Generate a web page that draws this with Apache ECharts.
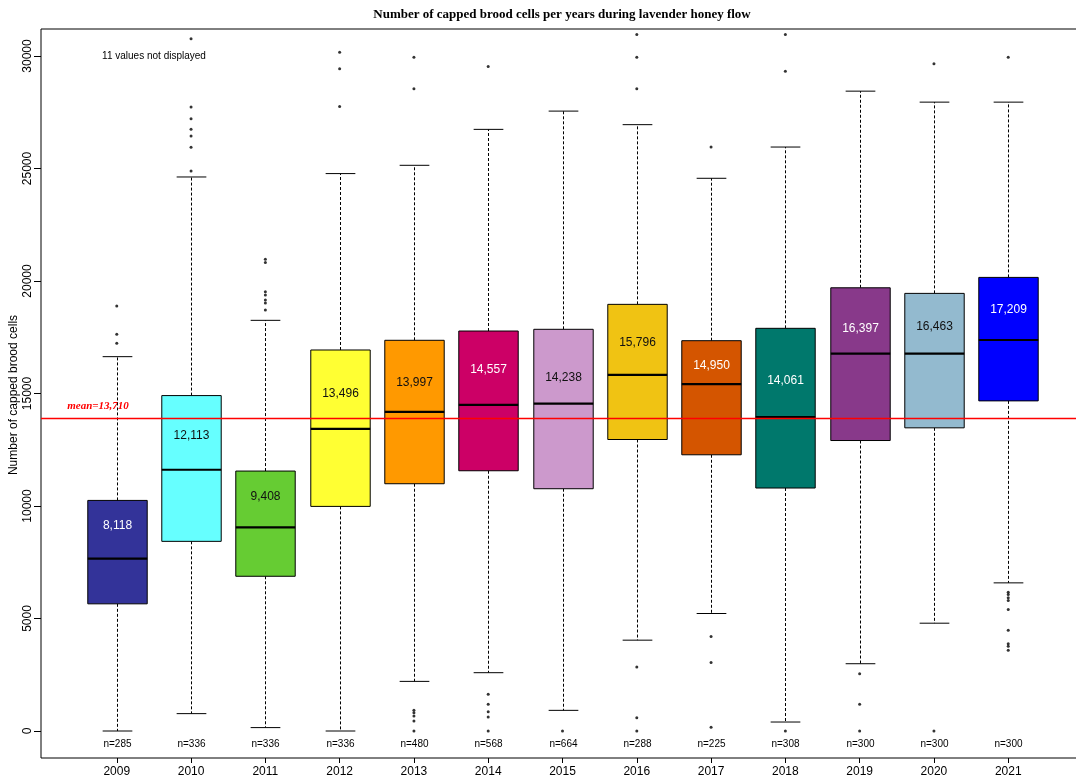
<!DOCTYPE html>
<html><head><meta charset="utf-8">
<script src="https://cdn.jsdelivr.net/npm/echarts@6/dist/echarts.min.js"></script>
<style>html,body{margin:0;padding:0;background:#fff}#c{width:1076px;height:776px}</style>
</head><body><div id="c"></div>
<script>
// ---------- data ----------
const years = ['2009','2010','2011','2012','2013','2014','2015','2016','2017','2018','2019','2020','2021'];
const nCounts = [285,336,336,336,480,568,664,288,225,308,300,300,300];
const whiskerLow  = [0,772,151,0,2205,2591,918,4037,5222,399,2990,4791,6584];
const q1          = [5652,8429,6877,9982,10989,11566,10768,12955,12276,10799,12910,13474,14672];
const median      = [7662,11611,9050,13430,14184,14494,14552,15825,15413,13949,16770,16770,17378];
const q3          = [10248,14907,11553,16934,17365,17777,17853,18962,17347,17897,19698,19450,20160];
const whiskerHigh = [16637,24623,18252,24774,25142,26739,27551,26948,24565,25954,28438,27950,27950];
const meanValues  = [8118,12113,9408,13496,13997,14557,14238,15796,14950,14061,16397,16463,17209];
const meanLabelAt = [9139,13119,10426,15013,15484,16047,15723,17276,16225,15559,17897,17955,18740];
const outliers2009 = [18886,17630,17232];
const outliers2010 = [30763,27728,27214,26739,26442,25941,24889];
const outliers2011 = [20971,20825,19521,19374,19153,19020,18709];
const outliers2012 = [30169,29432,27760];
const outliers2013 = [29947,28545,918,816,665,444,0];
const outliers2014 = [29534,1628,1185,861,621,0];
const outliers2015 = [0];
const outliers2016 = [30954,29947,28545,2839,594,0];
const outliers2017 = [25954,4201,3048,164];
const outliers2018 = [30954,29326,0];
const outliers2019 = [2547,1185,0];
const outliers2020 = [29654,0];
const outliers2021 = [29947,6167,6065,5918,5799,5400,4481,3878,3771,3594];
const grandMean = 13710;
const grandMeanLine = 13904;
const hiddenCount = 11;
const yTicks = [0,5000,10000,15000,20000,25000,30000];

// ---------- styles ----------
const boxColors = ['#333399','#66FFFF','#66CC33','#FFFF33','#FF9900','#CC0066','#CC99CC','#F0C313','#D45500','#00786C','#88398A','#93BACF','#0000FF'];
const labelColors = ['#fff','#111','#111','#111','#111','#fff','#111','#111','#fff','#fff','#fff','#111','#fff'];
const FONT = '"Liberation Sans", Arial, sans-serif';

const allOutliers = [outliers2009,outliers2010,outliers2011,outliers2012,outliers2013,outliers2014,outliers2015,outliers2016,outliers2017,outliers2018,outliers2019,outliers2020,outliers2021];
const outlierPoints = [];
allOutliers.forEach((arr, i) => arr.forEach(v => outlierPoints.push([i + 1, v])));
const boxData = years.map((y, i) => [i + 1, whiskerLow[i], q1[i], median[i], q3[i], whiskerHigh[i]]);
const pos = years.map((y, i) => i + 1);

function renderItem(params, api) {
  const i = params.dataIndex;
  const x = api.value(0);
  const pLow = api.coord([x, api.value(1)]);
  const pQ1 = api.coord([x, api.value(2)]);
  const pMed = api.coord([x, api.value(3)]);
  const pQ3 = api.coord([x, api.value(4)]);
  const pHigh = api.coord([x, api.value(5)]);
  const pLab = api.coord([x, meanLabelAt[i]]);
  const pZero = api.coord([x, 0]);
  const bw = api.size([0.8, 0])[0];
  const cw = api.size([0.4, 0])[0];
  const cx = Math.round(pMed[0]) + 0.5;
  const dash = { stroke: '#000', lineWidth: 1, lineDash: [3, 2] };
  const solid = { stroke: '#000', lineWidth: 1 };
  return {
    type: 'group',
    children: [
      { type: 'line', shape: { x1: cx, y1: pQ3[1], x2: cx, y2: pHigh[1] }, style: dash },
      { type: 'line', shape: { x1: cx, y1: pQ1[1], x2: cx, y2: pLow[1] }, style: dash },
      { type: 'line', shape: { x1: cx - cw / 2, y1: pHigh[1], x2: cx + cw / 2, y2: pHigh[1] }, style: solid },
      { type: 'line', shape: { x1: cx - cw / 2, y1: pLow[1], x2: cx + cw / 2, y2: pLow[1] }, style: solid },
      { type: 'rect', shape: { x: cx - bw / 2, y: pQ3[1], width: bw, height: pQ1[1] - pQ3[1] },
        style: { fill: boxColors[i], stroke: '#000', lineWidth: 1 } },
      { type: 'line', shape: { x1: cx - bw / 2, y1: pMed[1], x2: cx + bw / 2, y2: pMed[1] },
        style: { stroke: '#000', lineWidth: 2.2 } },
      { type: 'text', x: cx, y: pLab[1],
        style: { text: meanValues[i].toLocaleString('en-US'), fill: labelColors[i], fontSize: 12, fontFamily: FONT,
                 align: 'center', verticalAlign: 'middle' } },
      { type: 'text', x: cx, y: pZero[1] + 13,
        style: { text: 'n=' + nCounts[i], fill: '#000', fontSize: 10, fontFamily: FONT,
                 align: 'center', verticalAlign: 'middle' } }
    ]
  };
}

const chart = echarts.init(document.getElementById('c'), null, { renderer: 'canvas' });
chart.setOption({
  animation: false,
  backgroundColor: '#fff',
  grid: { left: 41, top: 29, right: -8, bottom: 18, show: true, borderColor: '#000', borderWidth: 1,
          backgroundColor: 'transparent', containLabel: false, outerBoundsMode: 'none' },
  xAxis: {
    type: 'value', min: -0.02, max: 14.02,
    splitLine: { show: false }, axisLine: { show: false, onZero: false },
    axisTick: { show: true, customValues: pos, length: 5, lineStyle: { color: '#000' } },
    axisLabel: { customValues: pos, formatter: v => years[Math.round(v) - 1] || '', margin: 8,
                 color: '#000', fontSize: 12, fontFamily: FONT }
  },
  yAxis: {
    type: 'value', min: -1200, max: 31200,
    splitLine: { show: false }, axisLine: { show: false, onZero: false },
    axisTick: { show: true, customValues: yTicks, length: 7, lineStyle: { color: '#000' } },
    axisLabel: { customValues: yTicks, formatter: v => String(v), rotate: 90, margin: 7,
                 color: '#000', fontSize: 12, fontFamily: FONT }
  },
  graphic: [
    { type: 'text', x: 562, y: 15, style: { text: 'Number of capped brood cells per years during lavender honey flow',
      font: 'bold 13px "Liberation Serif", serif', fill: '#000', align: 'center', verticalAlign: 'middle' } },
    { type: 'text', x: 14, y: 395, rotation: Math.PI / 2, style: { text: 'Number of capped brood cells',
      fontSize: 12, fontFamily: FONT, fill: '#000', align: 'center', verticalAlign: 'middle' } },
    { type: 'text', x: 154, y: 56, style: { text: hiddenCount + ' values not displayed',
      fontSize: 10, fontFamily: FONT, fill: '#000', align: 'center', verticalAlign: 'middle' } },
    { type: 'text', x: 98, y: 406, style: { text: 'mean=' + grandMean.toLocaleString('en-US'),
      font: 'italic bold 11px "Liberation Serif", serif', fill: '#ff0000', align: 'center', verticalAlign: 'middle' } }
  ],
  series: [
    { type: 'custom', data: boxData, encode: { x: 0, y: [1, 2, 3, 4, 5] }, renderItem: renderItem, silent: true, z: 2 },
    { type: 'scatter', data: outlierPoints, symbolSize: 3, itemStyle: { color: '#000' }, silent: true, z: 3,
      markLine: { silent: true, symbol: 'none', z: 5, data: [{ yAxis: grandMeanLine }],
                  lineStyle: { color: '#ff0000', width: 1.3, type: 'solid' }, label: { show: false } } }
  ]
});
</script>
</body></html>
